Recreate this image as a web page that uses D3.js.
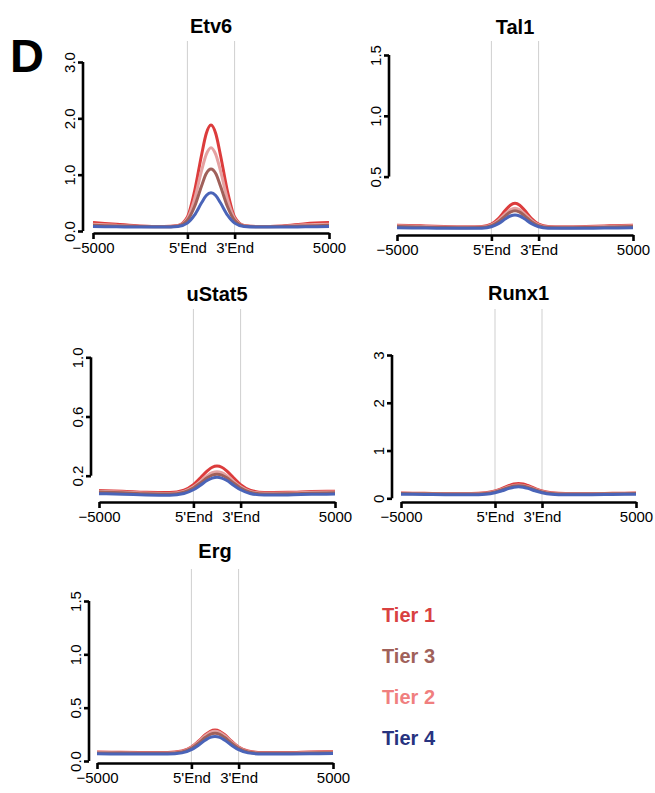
<!DOCTYPE html>
<html>
<head>
<meta charset="utf-8">
<script src="https://cdn.jsdelivr.net/npm/d3@7"></script>
<style>
  body { margin: 0; background: #fff; }
  text { font-family: "Liberation Sans", Arial, sans-serif; }
</style>
</head>
<body>
<div id="chart"></div>
<script>
// bin positions along the meta-gene (0-40 upstream, 40-60 body, 60-100 downstream)
var xPos = [0, 10, 20, 30, 36, 40, 43, 46, 48, 50, 52, 54, 57, 60, 64, 70, 80, 90, 100];
var xTickPos = [0, 40, 60, 100];
var xTickLabels = ["\u22125000", "5'End", "3'End", "5000"];

var tierNames = ["Tier 1", "Tier 2", "Tier 3", "Tier 4"];
var lineColors = ["#dc3c3c", "#e4a2a2", "#a0605a", "#4a64b8"];
var legendOrder = ["Tier 1", "Tier 3", "Tier 2", "Tier 4"];
var legendColors = ["#d94141", "#a0615a", "#f07f7f", "#27337f"];

// Etv6
var etv6Tier1 = [0.15, 0.12, 0.09, 0.08, 0.10, 0.25, 0.70, 1.35, 1.73, 1.88, 1.73, 1.35, 0.70, 0.25, 0.10, 0.08, 0.09, 0.13, 0.15];
var etv6Tier2 = [0.12, 0.10, 0.085, 0.08, 0.095, 0.22, 0.56, 1.07, 1.36, 1.48, 1.36, 1.07, 0.56, 0.22, 0.095, 0.08, 0.085, 0.11, 0.12];
var etv6Tier3 = [0.10, 0.09, 0.08, 0.075, 0.09, 0.19, 0.43, 0.80, 1.02, 1.10, 1.02, 0.80, 0.43, 0.19, 0.09, 0.075, 0.08, 0.09, 0.10];
var etv6Tier4 = [0.08, 0.075, 0.07, 0.07, 0.08, 0.14, 0.28, 0.50, 0.63, 0.68, 0.63, 0.50, 0.28, 0.14, 0.08, 0.07, 0.07, 0.075, 0.08];
// Tal1
var tal1Tier1 = [0.10, 0.095, 0.09, 0.088, 0.09, 0.11, 0.155, 0.225, 0.265, 0.28, 0.265, 0.225, 0.155, 0.11, 0.09, 0.088, 0.09, 0.095, 0.10];
var tal1Tier2 = [0.095, 0.09, 0.086, 0.085, 0.086, 0.103, 0.14, 0.195, 0.227, 0.24, 0.227, 0.195, 0.14, 0.103, 0.086, 0.085, 0.086, 0.09, 0.095];
var tal1Tier3 = [0.09, 0.085, 0.081, 0.08, 0.081, 0.096, 0.128, 0.179, 0.208, 0.22, 0.208, 0.179, 0.128, 0.096, 0.081, 0.08, 0.081, 0.085, 0.09];
var tal1Tier4 = [0.08, 0.077, 0.075, 0.075, 0.076, 0.088, 0.113, 0.153, 0.176, 0.185, 0.176, 0.153, 0.113, 0.088, 0.076, 0.075, 0.075, 0.077, 0.08];
// uStat5
var ustat5Tier1 = [0.10, 0.095, 0.088, 0.086, 0.103, 0.14, 0.186, 0.234, 0.257, 0.265, 0.257, 0.234, 0.186, 0.14, 0.103, 0.087, 0.088, 0.093, 0.095];
var ustat5Tier2 = [0.095, 0.09, 0.083, 0.08, 0.094, 0.125, 0.162, 0.202, 0.22, 0.227, 0.22, 0.202, 0.162, 0.125, 0.094, 0.081, 0.083, 0.088, 0.09];
var ustat5Tier3 = [0.09, 0.085, 0.078, 0.076, 0.089, 0.117, 0.151, 0.187, 0.204, 0.21, 0.204, 0.187, 0.151, 0.117, 0.089, 0.077, 0.078, 0.082, 0.085];
var ustat5Tier4 = [0.078, 0.075, 0.07, 0.068, 0.08, 0.105, 0.136, 0.169, 0.184, 0.19, 0.184, 0.169, 0.136, 0.105, 0.08, 0.069, 0.07, 0.074, 0.076];
// Runx1
var runx1Tier1 = [0.11, 0.105, 0.10, 0.10, 0.114, 0.152, 0.206, 0.268, 0.299, 0.31, 0.299, 0.268, 0.206, 0.152, 0.114, 0.10, 0.10, 0.105, 0.11];
var runx1Tier2 = [0.105, 0.10, 0.095, 0.095, 0.107, 0.141, 0.189, 0.243, 0.27, 0.28, 0.27, 0.243, 0.189, 0.141, 0.107, 0.095, 0.095, 0.10, 0.105];
var runx1Tier3 = [0.10, 0.095, 0.09, 0.09, 0.102, 0.134, 0.179, 0.23, 0.256, 0.265, 0.256, 0.23, 0.179, 0.134, 0.102, 0.09, 0.09, 0.095, 0.10];
var runx1Tier4 = [0.085, 0.08, 0.075, 0.075, 0.086, 0.116, 0.158, 0.207, 0.231, 0.24, 0.231, 0.207, 0.158, 0.116, 0.086, 0.075, 0.075, 0.08, 0.085];
// Erg
var ergTier1 = [0.085, 0.082, 0.08, 0.08, 0.094, 0.132, 0.186, 0.248, 0.279, 0.29, 0.279, 0.248, 0.186, 0.132, 0.094, 0.08, 0.08, 0.085, 0.09];
var ergTier2 = [0.08, 0.078, 0.075, 0.075, 0.089, 0.126, 0.179, 0.239, 0.269, 0.28, 0.269, 0.239, 0.179, 0.126, 0.089, 0.075, 0.075, 0.08, 0.085];
var ergTier3 = [0.076, 0.074, 0.072, 0.072, 0.084, 0.119, 0.167, 0.222, 0.25, 0.26, 0.25, 0.222, 0.167, 0.119, 0.084, 0.072, 0.072, 0.075, 0.078];
var ergTier4 = [0.068, 0.066, 0.065, 0.065, 0.076, 0.106, 0.148, 0.197, 0.221, 0.23, 0.221, 0.197, 0.148, 0.106, 0.076, 0.065, 0.065, 0.067, 0.07];

var etv6Ticks = [0, 1, 2, 3];
var tal1Ticks = [0.5, 1.0, 1.5];
var ustat5Ticks = [0.2, 0.6, 1.0];
var runx1Ticks = [0, 1, 2, 3];
var ergTicks = [0, 0.5, 1.0, 1.5];

var panels = [
  {name: "Etv6", series: [etv6Tier1, etv6Tier2, etv6Tier3, etv6Tier4], ticks: etv6Ticks, fmt: ".1f",
   x0: 93, x1: 329, yZero: 231, yTop: 62, yMax: 3, axisX: 83, axisY: 233, lineTop: 41, titleY: 33},
  {name: "Tal1", series: [tal1Tier1, tal1Tier2, tal1Tier3, tal1Tier4], ticks: tal1Ticks, fmt: ".1f",
   x0: 397, x1: 633, yZero: 237.4, yTop: 55, yMax: 1.5, axisX: 389, axisY: 235, lineTop: 41, titleY: 34},
  {name: "uStat5", series: [ustat5Tier1, ustat5Tier2, ustat5Tier3, ustat5Tier4], ticks: ustat5Ticks, fmt: ".1f",
   x0: 99, x1: 335, yZero: 505.3, yTop: 357.3, yMax: 1, axisX: 91, axisY: 502, lineTop: 309, titleY: 301},
  {name: "Runx1", series: [runx1Tier1, runx1Tier2, runx1Tier3, runx1Tier4], ticks: runx1Ticks, fmt: "d",
   x0: 401, x1: 636, yZero: 498.3, yTop: 355, yMax: 3, axisX: 392, axisY: 502, lineTop: 309, titleY: 300},
  {name: "Erg", series: [ergTier1, ergTier2, ergTier3, ergTier4], ticks: ergTicks, fmt: ".1f",
   x0: 97, x1: 333, yZero: 761, yTop: 601, yMax: 1.5, axisX: 89, axisY: 763, lineTop: 569, titleY: 558}
];

var svg = d3.select("#chart")
    .append("svg")
    .attr("width", 655)
    .attr("height", 793);

svg.append("rect").attr("width", 655).attr("height", 793).attr("fill", "#fff");

svg.append("text")
    .attr("x", 10)
    .attr("y", 72)
    .style("font-size", "47px")
    .style("font-weight", "bold")
    .text("D");

panels.forEach(function(p) {
    var x = d3.scaleLinear().domain([0, 100]).range([p.x0, p.x1]);
    var y = d3.scaleLinear().domain([0, p.yMax]).range([p.yZero, p.yTop]);
    var g = svg.append("g");

    // gene body boundaries
    g.selectAll(".vline")
        .data([40, 60])
        .enter()
        .append("line")
        .attr("x1", function(d) { return x(d); })
        .attr("x2", function(d) { return x(d); })
        .attr("y1", p.lineTop)
        .attr("y2", p.axisY)
        .attr("stroke", "#cfcfcf")
        .attr("stroke-width", 1);

    var line = d3.line()
        .x(function(d, i) { return x(xPos[i]); })
        .y(function(d) { return y(d); })
        .curve(d3.curveMonotoneX);

    p.series.forEach(function(s, k) {
        g.append("path")
            .attr("d", line(s))
            .attr("fill", "none")
            .attr("stroke", lineColors[k])
            .attr("stroke-width", 3)
            .attr("stroke-linejoin", "round");
    });

    // x axis
    var xAxis = d3.axisBottom(x)
        .tickValues(xTickPos)
        .tickFormat(function(d, i) { return xTickLabels[i]; })
        .tickSize(6)
        .tickSizeOuter(0);
    var gx = g.append("g")
        .attr("transform", "translate(0," + p.axisY + ")")
        .call(xAxis);
    gx.select(".domain").attr("stroke", "#000").attr("stroke-width", 2.6);
    gx.selectAll(".tick line").attr("stroke", "#000").attr("stroke-width", 2.6);
    gx.selectAll(".tick text")
        .attr("y", 20)
        .attr("dy", null)
        .style("font-size", "15px")
        .style("font-family", "'Liberation Sans', Arial, sans-serif")
        .attr("fill", "#000");

    // y axis (spans first to last tick, R style)
    var yAxis = d3.axisLeft(y)
        .tickValues(p.ticks)
        .tickFormat(d3.format(p.fmt))
        .tickSize(5)
        .tickSizeOuter(0);
    var gy = g.append("g")
        .attr("transform", "translate(" + p.axisX + ",0)")
        .call(yAxis);
    gy.select(".domain")
        .attr("d", "M0," + y(p.ticks[0]) + "V" + y(p.ticks[p.ticks.length - 1]))
        .attr("stroke", "#000").attr("stroke-width", 2.6);
    gy.selectAll(".tick line").attr("stroke", "#000").attr("stroke-width", 2.6);
    gy.selectAll(".tick text")
        .attr("x", null)
        .attr("dy", null)
        .attr("transform", "translate(-8,0) rotate(-90)")
        .attr("text-anchor", "middle")
        .style("font-size", "15px")
        .style("font-family", "'Liberation Sans', Arial, sans-serif")
        .attr("fill", "#000");

    g.append("text")
        .attr("x", (p.x0 + p.x1) / 2)
        .attr("y", p.titleY)
        .attr("text-anchor", "middle")
        .style("font-size", "20px")
        .style("font-weight", "bold")
        .text(p.name);
});

// legend
svg.selectAll(".legend")
    .data(legendOrder)
    .enter()
    .append("text")
    .attr("x", 382)
    .attr("y", function(d, i) { return 622 + i * 41; })
    .style("font-size", "20px")
    .style("font-weight", "bold")
    .attr("fill", function(d, i) { return legendColors[i]; })
    .text(function(d) { return d; });
</script>
</body>
</html>
